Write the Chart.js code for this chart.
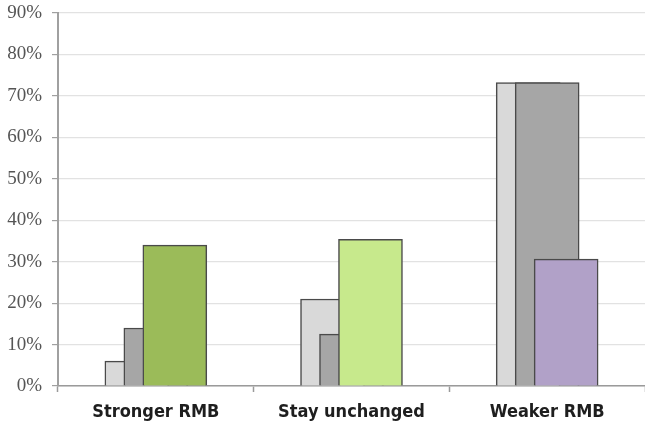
<!DOCTYPE html>
<html>
<head>
<meta charset="utf-8">
<script src="https://cdn.jsdelivr.net/npm/chart.js@4.4.1/dist/chart.umd.min.js"></script>
<style>
  html, body { margin: 0; padding: 0; background: #ffffff; }
  #wrap { width: 645px; height: 427px; }
</style>
</head>
<body>
<div id="wrap"><canvas id="chart"></canvas></div>
<script>
// Expectations for the RMB, share of respondents (%)
const categories = ['Stronger RMB', 'Stay unchanged', 'Weaker RMB'];
const seriesLight = [6, 21, 73.2];     // light grey bars
const seriesDark = [14, 12.5, 73.2];   // dark grey bars
const seriesColour = [34, 35.4, 30.6]; // coloured front bars
const yTicks = [0, 10, 20, 30, 40, 50, 60, 70, 80, 90];

// Styling
const colourFills = ['#9bbb59', '#c7e98c', '#b1a1c8'];
const borderCol = '#4a4a4a';
const BAR_PX = 64;      // bar width in pixels
const STEP = 0.097;     // horizontal step between overlapping bars, in category widths

function toPoints(values, shift) {
  return values.map((v, i) => ({ x: i + shift, y: v }));
}

const ctx = document.getElementById('chart').getContext('2d');
new Chart(ctx, {
  type: 'bar',
  data: {
    labels: categories,
    datasets: [
      {
        data: toPoints(seriesColour, STEP),
        backgroundColor: colourFills,
        borderColor: borderCol,
        borderWidth: 1.5,
        xAxisID: 'xb',
        order: 1
      },
      {
        data: toPoints(seriesDark, 0),
        backgroundColor: '#a6a6a6',
        borderColor: borderCol,
        borderWidth: 1.5,
        xAxisID: 'xb',
        order: 2
      },
      {
        data: toPoints(seriesLight, -STEP),
        backgroundColor: '#d9d9d9',
        borderColor: borderCol,
        borderWidth: 1.5,
        xAxisID: 'xb',
        order: 3
      }
    ]
  },
  options: {
    responsive: true,
    maintainAspectRatio: false,
    animation: false,
    devicePixelRatio: 1,
    layout: { padding: 0 },
    datasets: {
      bar: { grouped: false, barThickness: BAR_PX }
    },
    plugins: {
      legend: { display: false },
      tooltip: { enabled: false }
    },
    scales: {
      x: {
        type: 'category',
        offset: true,
        grid: {
          offset: true,
          drawOnChartArea: false,
          drawTicks: true,
          tickLength: 6,
          tickColor: '#9a9a9a',
          tickWidth: 1.5
        },
        border: { color: '#9a9a9a', width: 1.5 },
        ticks: {
          color: '#1e1e1e',
          padding: 10,
          font: { family: '"DejaVu Sans Condensed", "DejaVu Sans", sans-serif', size: 18, weight: 'bold' }
        },
        afterFit: (scale) => { scale.height = 41; }
      },
      xb: {
        type: 'linear',
        display: false,
        offset: false,
        min: -0.5,
        max: categories.length - 0.5
      },
      y: {
        min: yTicks[0],
        max: yTicks[yTicks.length - 1],
        afterBuildTicks: (scale) => { scale.ticks = yTicks.map(v => ({ value: v })); },
        grid: {
          color: '#e2e2e2',
          lineWidth: 1.2,
          tickLength: 6,
          tickColor: '#a0a0a0'
        },
        border: { color: '#a0a0a0', width: 2 },
        ticks: {
          color: '#555555',
          padding: 10,
          font: { family: '"Liberation Serif", "DejaVu Serif", serif', size: 19 },
          callback: (v) => v + '%'
        },
        afterFit: (scale) => {
          scale.width = 58;
          scale.paddingTop = 13;
        }
      }
    }
  }
});
</script>
</body>
</html>
